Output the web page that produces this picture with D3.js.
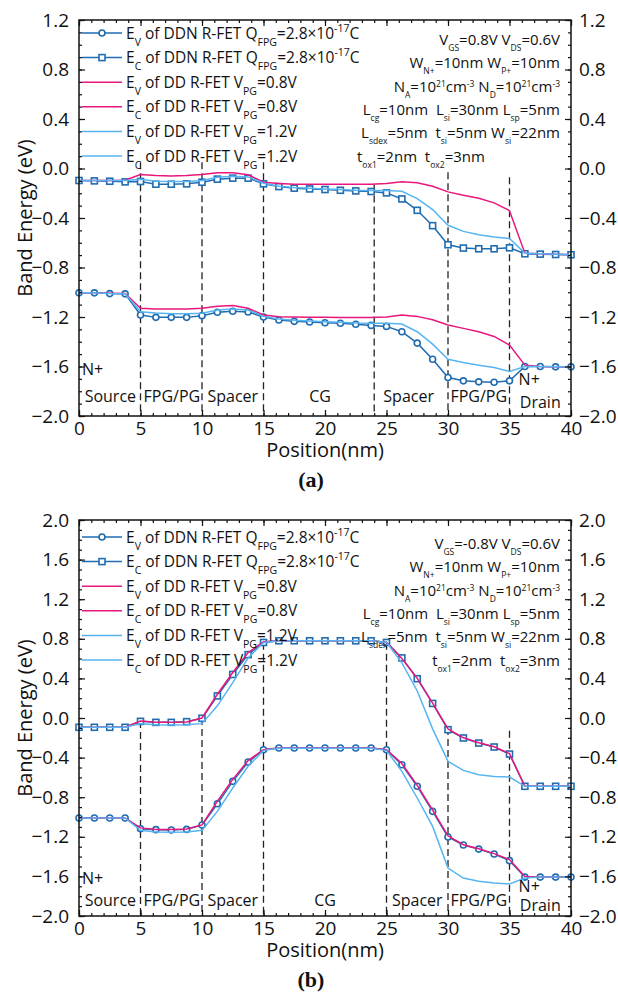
<!DOCTYPE html>
<html>
<head>
<meta charset="utf-8">
<script src="https://cdn.jsdelivr.net/npm/d3@7"></script>
<style>
  body { margin: 0; background: #fff; }
  text { font-family: "Open Sans", "Noto Sans", sans-serif; fill: #111; white-space: pre; }
</style>
</head>
<body>
<script>
// Data: position grid (nm) shared by all curves
const position = [0, 1.25, 2.5, 3.75, 5, 6.25, 7.5, 8.75, 10, 11.25, 12.5, 13.75, 15, 16.25, 17.5, 18.75,
    20, 21.25, 22.5, 23.75, 25, 26.25, 27.5, 28.75, 30, 31.25, 32.5, 33.75, 35, 36.25, 37.5, 38.75, 40]

// Panel (a): VGS = 0.8 V
const aEvDDN = [-1.005, -1.005, -1.011, -1.013, -1.184, -1.203, -1.203, -1.203, -1.189, -1.162, -1.154, -1.159, -1.2, -1.224, -1.235, -1.241,
    -1.246, -1.251, -1.259, -1.268, -1.276, -1.319, -1.411, -1.541, -1.689, -1.716, -1.724, -1.727, -1.716, -1.6, -1.6, -1.603, -1.603]
const aEcDDN = [-0.097, -0.1, -0.103, -0.108, -0.105, -0.127, -0.127, -0.124, -0.111, -0.086, -0.078, -0.078, -0.124, -0.146, -0.159, -0.165,
    -0.17, -0.176, -0.181, -0.186, -0.197, -0.246, -0.338, -0.462, -0.616, -0.643, -0.649, -0.649, -0.641, -0.689, -0.692, -0.695, -0.697]
const aEvPG08 = [-1.005, -1.005, -1.008, -1.01, -1.13, -1.135, -1.135, -1.135, -1.13, -1.113, -1.108, -1.13, -1.184, -1.198, -1.2, -1.202,
    -1.203, -1.204, -1.205, -1.205, -1.2, -1.184, -1.195, -1.222, -1.265, -1.292, -1.319, -1.357, -1.427, -1.589, -1.6, -1.603, -1.603]
const aEcPG08 = [-0.097, -0.097, -0.097, -0.095, -0.049, -0.057, -0.06, -0.057, -0.049, -0.035, -0.035, -0.051, -0.111, -0.122, -0.127, -0.127,
    -0.127, -0.127, -0.127, -0.127, -0.122, -0.108, -0.116, -0.143, -0.189, -0.216, -0.24, -0.278, -0.341, -0.684, -0.689, -0.693, -0.697]
const aEvPG12 = [-1.005, -1.005, -1.01, -1.012, -1.157, -1.168, -1.173, -1.173, -1.17, -1.143, -1.135, -1.143, -1.195, -1.216, -1.227, -1.232,
    -1.238, -1.243, -1.249, -1.251, -1.251, -1.257, -1.319, -1.419, -1.541, -1.568, -1.589, -1.608, -1.64, -1.6, -1.6, -1.603, -1.603]
const aEcPG12 = [-0.097, -0.097, -0.097, -0.097, -0.086, -0.103, -0.105, -0.105, -0.097, -0.07, -0.062, -0.068, -0.119, -0.143, -0.154, -0.159,
    -0.165, -0.17, -0.176, -0.178, -0.178, -0.184, -0.243, -0.332, -0.459, -0.508, -0.535, -0.554, -0.565, -0.684, -0.689, -0.693, -0.697]

// Panel (b): VGS = -0.8 V
const bEvDDN = [-1.01, -1.01, -1.01, -1.01, -1.118, -1.128, -1.132, -1.125, -1.081, -0.866, -0.64, -0.445, -0.32, -0.303, -0.303, -0.303,
    -0.303, -0.303, -0.303, -0.303, -0.32, -0.472, -0.69, -0.943, -1.202, -1.283, -1.324, -1.374, -1.441, -1.607, -1.607, -1.607, -1.607]
const bEcDDN = [-0.094, -0.094, -0.094, -0.094, -0.034, -0.044, -0.044, -0.037, -0.003, 0.223, 0.44, 0.64, 0.763, 0.78, 0.78, 0.78,
    0.78, 0.78, 0.78, 0.78, 0.763, 0.607, 0.397, 0.147, -0.118, -0.202, -0.253, -0.293, -0.364, -0.69, -0.69, -0.69, -0.69]
const bEvPG08 = [-1.01, -1.01, -1.01, -1.01, -1.11, -1.125, -1.125, -1.12, -1.08, -0.84, -0.62, -0.43, -0.32, -0.303, -0.303, -0.303,
    -0.303, -0.303, -0.303, -0.303, -0.32, -0.46, -0.68, -0.93, -1.19, -1.28, -1.32, -1.37, -1.43, -1.6, -1.607, -1.607, -1.607]
const bEcPG08 = [-0.094, -0.094, -0.094, -0.094, -0.03, -0.044, -0.044, -0.04, 0.0, 0.24, 0.46, 0.66, 0.77, 0.78, 0.78, 0.78,
    0.78, 0.78, 0.78, 0.78, 0.765, 0.6, 0.4, 0.15, -0.11, -0.2, -0.25, -0.29, -0.36, -0.69, -0.69, -0.69, -0.69]
const bEvPG12 = [-1.01, -1.01, -1.01, -1.01, -1.135, -1.152, -1.155, -1.152, -1.135, -0.943, -0.707, -0.488, -0.327, -0.305, -0.305, -0.305,
    -0.305, -0.305, -0.305, -0.305, -0.327, -0.539, -0.808, -1.095, -1.516, -1.617, -1.65, -1.667, -1.677, -1.617, -1.607, -1.607, -1.607]
const bEcPG12 = [-0.094, -0.094, -0.094, -0.094, -0.057, -0.067, -0.07, -0.067, -0.057, 0.123, 0.357, 0.607, 0.763, 0.78, 0.78, 0.78,
    0.78, 0.78, 0.78, 0.78, 0.765, 0.557, 0.273, -0.11, -0.438, -0.529, -0.573, -0.59, -0.596, -0.69, -0.69, -0.69, -0.69]

// Region boundaries (nm) and where each dashed line starts (eV)
const aBounds = [5, 10, 15, 24, 30, 35]
const aBoundTop = [0.05, 0.05, 0.05, -0.13, -0.03, -0.07]
const bBounds = [5, 10, 15, 25, 30, 35]
const bBoundTop = [-0.03, 0.0, 0.76, 0.76, -0.1, -0.13]

// Region labels: [text, position nm, energy eV]
const aRegions = [["N+", 1.1, -1.62], ["Source", 2.55, -1.84], ["FPG/PG", 7.55, -1.84], ["Spacer", 12.5, -1.84],
    ["CG", 19.6, -1.84], ["Spacer", 26.8, -1.84], ["FPG/PG", 32.5, -1.84], ["N+", 36.6, -1.7], ["Drain", 37.5, -1.89]]
const bRegions = [["N+", 1.1, -1.62], ["Source", 2.55, -1.84], ["FPG/PG", 7.55, -1.84], ["Spacer", 12.5, -1.84],
    ["CG", 20, -1.84], ["Spacer", 27.5, -1.84], ["FPG/PG", 32.5, -1.84], ["N+", 36.6, -1.7], ["Drain", 37.5, -1.89]]

// Legend and parameter texts (_{} = subscript, ^{} = superscript)
const legendLabels = [
    "E_{V} of DDN R-FET Q_{FPG}=2.8×10^{-17}C",
    "E_{C} of DDN R-FET Q_{FPG}=2.8×10^{-17}C",
    "E_{V} of DD R-FET V_{PG}=0.8V",
    "E_{C} of DD R-FET V_{PG}=0.8V",
    "E_{V} of DD R-FET V_{PG}=1.2V",
    "E_{C} of DD R-FET V_{PG}=1.2V"
]
const aParams = ["V_{GS}=0.8V V_{DS}=0.6V", "W_{N+}=10nm W_{P+}=10nm", "N_{A}=10^{21}cm^{-3} N_{D}=10^{21}cm^{-3}",
    "L_{cg}=10nm  L_{si}=30nm L_{sp}=5nm", "L_{sdex}=5nm  t_{si}=5nm W_{si}=22nm", "t_{ox1}=2nm  t_{ox2}=3nm"]
const bParams = ["V_{GS}=-0.8V V_{DS}=0.6V", "W_{N+}=10nm W_{P+}=10nm", "N_{A}=10^{21}cm^{-3} N_{D}=10^{21}cm^{-3}",
    "L_{cg}=10nm  L_{si}=30nm L_{sp}=5nm", "L_{sdex}=5nm  t_{si}=5nm W_{si}=22nm", "t_{ox1}=2nm  t_{ox2}=3nm"]

// Colours
const ddnColor = "#1f6cb0"
const pinkColor = "#e8177d"
const lightColor = "#56b4f2"

// Helper: write text with sub/superscripts
let richText = (sel, str, subSize) => {
    str.split(/(_\{[^}]*\}|\^\{[^}]*\})/).filter(s => s.length).forEach(s => {
        if (s.startsWith("_{")) {
            sel.append("tspan").attr("font-size", subSize).attr("baseline-shift", "sub").text(s.slice(2, -1))
        } else if (s.startsWith("^{")) {
            sel.append("tspan").attr("font-size", subSize).attr("baseline-shift", "super").text(s.slice(2, -1))
        } else {
            sel.append("tspan").text(s)
        }
    })
}

// SVG
const width = 618
const height = 1002
const left = 79
const right = 571
const svg = d3.select("body").append("svg")
    .attr("width", width)
    .attr("height", height)

let drawPanel = (p) => {
    const g = svg.append("g")
    const x = d3.scaleLinear().domain([0, 40]).range([left, right])
    const y = d3.scaleLinear().domain(p.yDomain).range([p.top + p.h, p.top])

    const yMajor = d3.range(Math.round(p.yDomain[0] * 10), Math.round(p.yDomain[1] * 10) + 1, 4).map(v => v / 10)
    const yMinor = d3.range(Math.round(p.yDomain[0] * 10), Math.round(p.yDomain[1] * 10) + 1, 1).map(v => v / 10)
    const xMajor = d3.range(0, 41, 5)
    const xMinor = d3.range(0, 41, 1)

    // Dashed region boundaries
    p.bounds.forEach((b, i) => {
        g.append("line")
            .attr("x1", x(b)).attr("x2", x(b))
            .attr("y1", y(p.boundTop[i])).attr("y2", y(p.yDomain[0]))
            .attr("stroke", "#222").attr("stroke-width", 1.3)
            .attr("stroke-dasharray", "7,4")
    })

    // Curves
    const series = [
        { data: p.evDDN, color: ddnColor, marker: "circle" },
        { data: p.ecDDN, color: ddnColor, marker: "square" },
        { data: p.evPG08, color: pinkColor },
        { data: p.ecPG08, color: pinkColor },
        { data: p.evPG12, color: lightColor },
        { data: p.ecPG12, color: lightColor }
    ]
    const line = d3.line().x((d, i) => x(position[i])).y(d => y(d))
    series.forEach(s => {
        g.append("path")
            .datum(s.data)
            .attr("d", line)
            .attr("fill", "none")
            .attr("stroke", s.color)
            .attr("stroke-width", 1.5)
        if (s.marker === "circle") {
            g.selectAll(null).data(s.data).enter().append("circle")
                .attr("cx", (d, i) => x(position[i]))
                .attr("cy", d => y(d))
                .attr("r", 3)
                .attr("fill", "#fff").attr("stroke", s.color).attr("stroke-width", 1.6)
        } else if (s.marker === "square") {
            g.selectAll(null).data(s.data).enter().append("rect")
                .attr("x", (d, i) => x(position[i]) - 3)
                .attr("y", d => y(d) - 3)
                .attr("width", 6).attr("height", 6)
                .attr("fill", "#fff").attr("stroke", s.color).attr("stroke-width", 1.6)
        }
    })

    // Axes: ticks point inward
    const fmt = d3.format(".1f")
    const styleAxis = (a) => {
        a.select(".domain").remove()
        a.selectAll("line").attr("stroke", "#111").attr("stroke-width", 1.2)
        a.selectAll("text").style("font-size", "19px").attr("fill", "#111")
    }
    g.append("g").attr("transform", `translate(${left},0)`)
        .call(d3.axisLeft(y).tickValues(yMinor).tickSize(-3).tickFormat(""))
        .call(styleAxis)
    g.append("g").attr("transform", `translate(${left},0)`)
        .call(d3.axisLeft(y).tickValues(yMajor).tickSize(-6).tickPadding(10).tickFormat(fmt))
        .call(styleAxis)
    g.append("g").attr("transform", `translate(${right},0)`)
        .call(d3.axisRight(y).tickValues(yMinor).tickSize(-3).tickFormat(""))
        .call(styleAxis)
    g.append("g").attr("transform", `translate(${right},0)`)
        .call(d3.axisRight(y).tickValues(yMajor).tickSize(-6).tickPadding(8).tickFormat(fmt))
        .call(styleAxis)
    g.append("g").attr("transform", `translate(0,${p.top + p.h})`)
        .call(d3.axisBottom(x).tickValues(xMinor).tickSize(-3).tickFormat(""))
        .call(styleAxis)
    g.append("g").attr("transform", `translate(0,${p.top + p.h})`)
        .call(d3.axisBottom(x).tickValues(xMajor).tickSize(-6).tickPadding(5))
        .call(styleAxis)
    g.append("g").attr("transform", `translate(0,${p.top})`)
        .call(d3.axisTop(x).tickValues(xMinor).tickSize(-3).tickFormat(""))
        .call(styleAxis)
    g.append("g").attr("transform", `translate(0,${p.top})`)
        .call(d3.axisTop(x).tickValues(xMajor).tickSize(-6).tickFormat(""))
        .call(styleAxis)

    // Frame
    g.append("rect")
        .attr("x", left).attr("y", p.top)
        .attr("width", right - left).attr("height", p.h)
        .attr("fill", "none").attr("stroke", "#111").attr("stroke-width", 1.5)

    // Region labels
    p.regions.forEach(r => {
        g.append("text")
            .attr("x", x(r[1])).attr("y", y(r[2]))
            .attr("text-anchor", "middle")
            .attr("dominant-baseline", "central")
            .style("font-size", "16px")
            .text(r[0])
    })

    // Legend
    const legColors = [ddnColor, ddnColor, pinkColor, pinkColor, lightColor, lightColor]
    legendLabels.forEach((lab, i) => {
        const ly = p.legendTop + i * 24.6
        g.append("line").attr("x1", 82).attr("x2", 122).attr("y1", ly).attr("y2", ly)
            .attr("stroke", legColors[i]).attr("stroke-width", 1.5)
        if (i === 0) {
            g.append("circle").attr("cx", 102).attr("cy", ly).attr("r", 3)
                .attr("fill", "#fff").attr("stroke", ddnColor).attr("stroke-width", 1.6)
        }
        if (i === 1) {
            g.append("rect").attr("x", 99).attr("y", ly - 3).attr("width", 6).attr("height", 6)
                .attr("fill", "#fff").attr("stroke", ddnColor).attr("stroke-width", 1.6)
        }
        const t = g.append("text").attr("x", 126).attr("y", ly + 5.5).style("font-size", "15.5px")
        richText(t, lab, "10.5px")
    })

    // Device parameters
    p.params.forEach((txt, i) => {
        const anchorLeft = p.lastLeft && i === p.params.length - 1
        const t = g.append("text")
            .attr("x", anchorLeft ? 357 : 560)
            .attr("y", p.legendTop + 12 + i * 23.3)
            .attr("text-anchor", anchorLeft ? "start" : "end")
            .style("font-size", "15px")
        richText(t, txt, "8.5px")
    })

    // Axis titles
    g.append("text")
        .attr("transform", `translate(24,${p.top + p.h / 2}) rotate(-90)`)
        .attr("text-anchor", "middle")
        .attr("dominant-baseline", "central")
        .style("font-size", "20px")
        .text("Band Energy (eV)")
    g.append("text")
        .attr("x", (left + right) / 2).attr("y", p.top + p.h + 41)
        .attr("text-anchor", "middle")
        .style("font-size", "20px")
        .text("Position(nm)")
    g.append("text")
        .attr("x", 311).attr("y", p.top + p.h + 71)
        .attr("text-anchor", "middle")
        .style("font-family", "'Liberation Serif', 'Times New Roman', serif")
        .style("font-size", "22px")
        .style("font-weight", "bold")
        .text(p.tag)
}

drawPanel({
    top: 20, h: 396, yDomain: [-2.0, 1.2], tag: "(a)",
    evDDN: aEvDDN, ecDDN: aEcDDN, evPG08: aEvPG08, ecPG08: aEcPG08, evPG12: aEvPG12, ecPG12: aEcPG12,
    bounds: aBounds, boundTop: aBoundTop, regions: aRegions, params: aParams, lastLeft: true,
    legendTop: 33
})
drawPanel({
    top: 520, h: 396, yDomain: [-2.0, 2.0], tag: "(b)",
    evDDN: bEvDDN, ecDDN: bEcDDN, evPG08: bEvPG08, ecPG08: bEcPG08, evPG12: bEvPG12, ecPG12: bEcPG12,
    bounds: bBounds, boundTop: bBoundTop, regions: bRegions, params: bParams, lastLeft: false,
    legendTop: 537
})
</script>
</body>
</html>
